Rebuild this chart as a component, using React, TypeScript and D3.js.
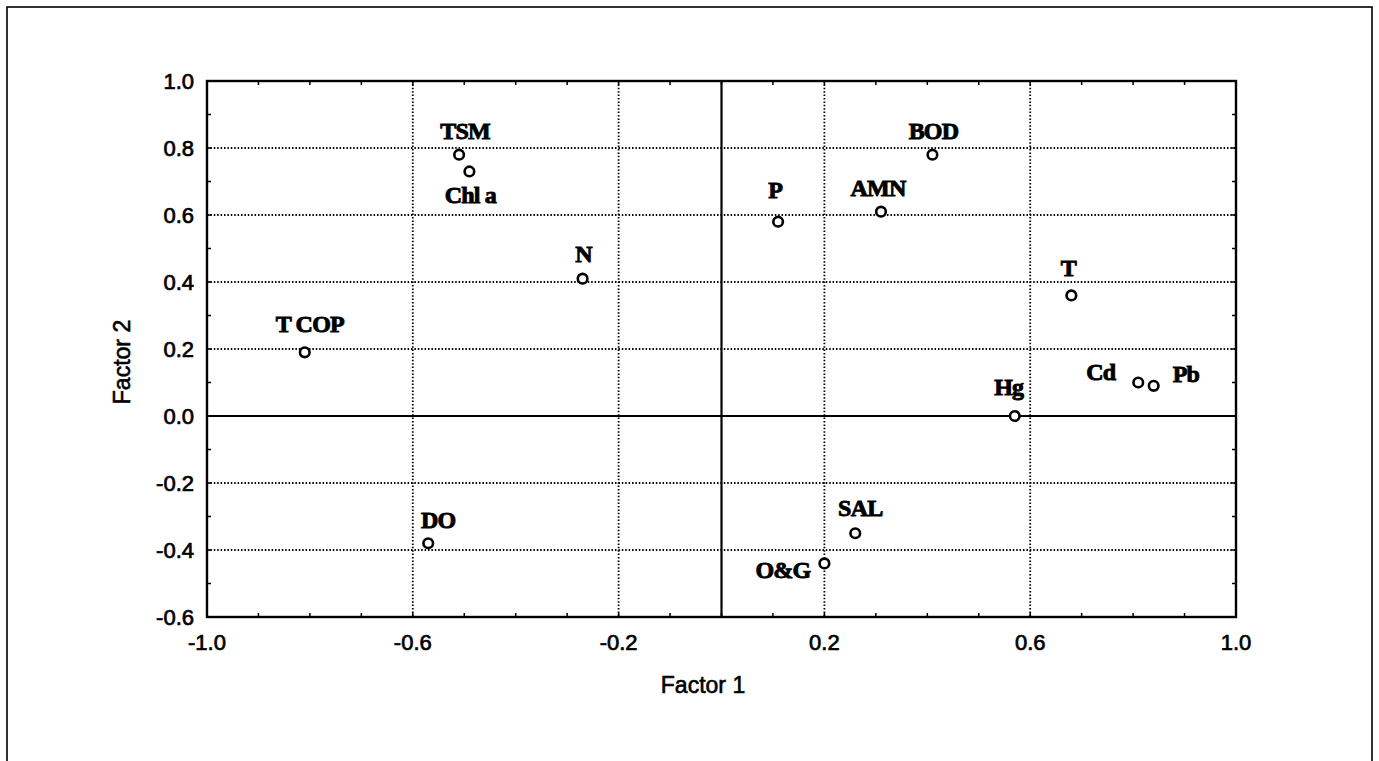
import React from "react";
import * as d3 from "d3";

// ---- Data ----
const variables = ["TSM", "Chl a", "N", "P", "AMN", "BOD", "T", "Cd", "Pb", "Hg", "T COP", "DO", "SAL", "O&G"];
const factor1 = [-0.51, -0.49, -0.27, 0.11, 0.31, 0.41, 0.68, 0.81, 0.84, 0.57, -0.81, -0.57, 0.26, 0.2];
const factor2 = [0.78, 0.73, 0.41, 0.58, 0.61, 0.78, 0.36, 0.1, 0.09, 0.0, 0.19, -0.38, -0.35, -0.44];
const xTicks = [-1.0, -0.6, -0.2, 0.2, 0.6, 1.0];
const yTicks = [1.0, 0.8, 0.6, 0.4, 0.2, 0.0, -0.2, -0.4, -0.6];
const xGrid = [-0.6, -0.2, 0.2, 0.6];
const yGrid = [0.8, 0.6, 0.4, 0.2, 0.0, -0.2, -0.4];

// ---- Label layout (pixel offsets from marker, and anchor) ----
const labelLayout: { dx: number; dy: number; anchor: string }[] = [
  { dx: 6, dy: -16, anchor: "middle" },   // TSM
  { dx: 1, dy: 32, anchor: "middle" },    // Chl a
  { dx: 1, dy: -17, anchor: "middle" },   // N
  { dx: -3, dy: -24, anchor: "middle" },  // P
  { dx: -3, dy: -16, anchor: "middle" },  // AMN
  { dx: 1, dy: -16, anchor: "middle" },   // BOD
  { dx: -3, dy: -19, anchor: "middle" },  // T
  { dx: -23, dy: -3, anchor: "end" },     // Cd
  { dx: 19, dy: -4, anchor: "start" },    // Pb
  { dx: -6, dy: -21, anchor: "middle" },  // Hg
  { dx: 5, dy: -20, anchor: "middle" },   // T COP
  { dx: 10, dy: -15, anchor: "middle" },  // DO
  { dx: 5, dy: -17, anchor: "middle" },   // SAL
  { dx: -14, dy: 15, anchor: "end" },     // O&G
];

const W = 1379;
const H = 761;
const left = 207, right = 1236, top = 81, bottom = 617;

const fmt = (v: number) => d3.format(".1f")(v).replace("\u2212", "-");

export default function App() {
  const x = d3.scaleLinear().domain([-1, 1]).range([left, right]);
  const y = d3.scaleLinear().domain([-0.6, 1.0]).range([bottom, top]);

  const minorX = d3.range(-10, 11).map((i) => i / 10);
  const minorY = d3.range(-6, 11).map((i) => i / 10);
  const tickLen = 4;
  const sans = "'Liberation Sans', Arial, sans-serif";
  const serif = "'Liberation Serif', 'Times New Roman', serif";

  const dotted = { stroke: "#000", strokeWidth: 1.8, strokeDasharray: "1.5 1.9", fill: "none" };

  return (
    <svg
      width={W}
      height={H}
      viewBox={`0 0 ${W} ${H}`}
      style={{ position: "absolute", left: 0, top: 0, background: "#fff" }}
    >
      <rect x={0} y={0} width={W} height={H} fill="#fff" />
      {/* outer frame */}
      <rect x={7} y={7} width={1372 - 7} height={820} fill="none" stroke="#000" strokeWidth={1.6} />

      {/* grid */}
      {xGrid.map((v) => (
        <line key={"gx" + v} x1={x(v)} x2={x(v)} y1={top} y2={bottom} style={dotted} />
      ))}
      {yGrid.map((v) => (
        <line key={"gy" + v} x1={left} x2={right} y1={y(v)} y2={y(v)} style={dotted} />
      ))}

      {/* zero lines */}
      <line x1={left} x2={right} y1={y(0)} y2={y(0)} stroke="#000" strokeWidth={2.2} />
      <line x1={x(0)} x2={x(0)} y1={top} y2={bottom} stroke="#000" strokeWidth={2.2} />

      {/* minor ticks */}
      {minorX.map((v) => (
        <g key={"mx" + v}>
          <line x1={x(v)} x2={x(v)} y1={bottom} y2={bottom - tickLen} stroke="#000" strokeWidth={1.5} />
          <line x1={x(v)} x2={x(v)} y1={top} y2={top + tickLen} stroke="#000" strokeWidth={1.5} />
        </g>
      ))}
      {minorY.map((v) => (
        <g key={"my" + v}>
          <line x1={left} x2={left + tickLen} y1={y(v)} y2={y(v)} stroke="#000" strokeWidth={1.5} />
          <line x1={right} x2={right - tickLen} y1={y(v)} y2={y(v)} stroke="#000" strokeWidth={1.5} />
        </g>
      ))}

      {/* plot frame */}
      <rect x={left} y={top} width={right - left} height={bottom - top} fill="none" stroke="#000" strokeWidth={2.4} />

      {/* tick labels */}
      {xTicks.map((v) => (
        <text
          key={"tx" + v}
          x={x(v)}
          y={650}
          textAnchor="middle"
          fontFamily={sans}
          fontSize={22}
          fill="#000"
          stroke="#000"
          strokeWidth={0.7}
        >
          {fmt(v)}
        </text>
      ))}
      {yTicks.map((v) => (
        <text
          key={"ty" + v}
          x={194}
          y={y(v) + 8}
          textAnchor="end"
          fontFamily={sans}
          fontSize={22}
          fill="#000"
          stroke="#000"
          strokeWidth={0.7}
        >
          {fmt(v)}
        </text>
      ))}

      {/* axis titles */}
      <text x={703} y={693} textAnchor="middle" fontFamily={sans} fontSize={23} fill="#000" stroke="#000" strokeWidth={0.6}>
        Factor 1
      </text>
      <text
        transform={`translate(130, 362) rotate(-90)`}
        textAnchor="middle"
        fontFamily={sans}
        fontSize={23}
        fill="#000"
        stroke="#000"
        strokeWidth={0.6}
      >
        Factor 2
      </text>

      {/* points */}
      {variables.map((name, i) => {
        const cx = x(factor1[i]);
        const cy = y(factor2[i]);
        const L = labelLayout[i];
        return (
          <g key={name}>
            <circle cx={cx} cy={cy} r={4.8} fill="#fff" stroke="#000" strokeWidth={2.6} />
            <text
              x={cx + L.dx}
              y={cy + L.dy}
              textAnchor={L.anchor}
              fontFamily={serif}
              fontWeight="bold"
              fontSize={24}
              letterSpacing={-0.8}
              fill="#000"
              stroke="#000"
              strokeWidth={0.9}
            >
              {name}
            </text>
          </g>
        );
      })}
    </svg>
  );
}
